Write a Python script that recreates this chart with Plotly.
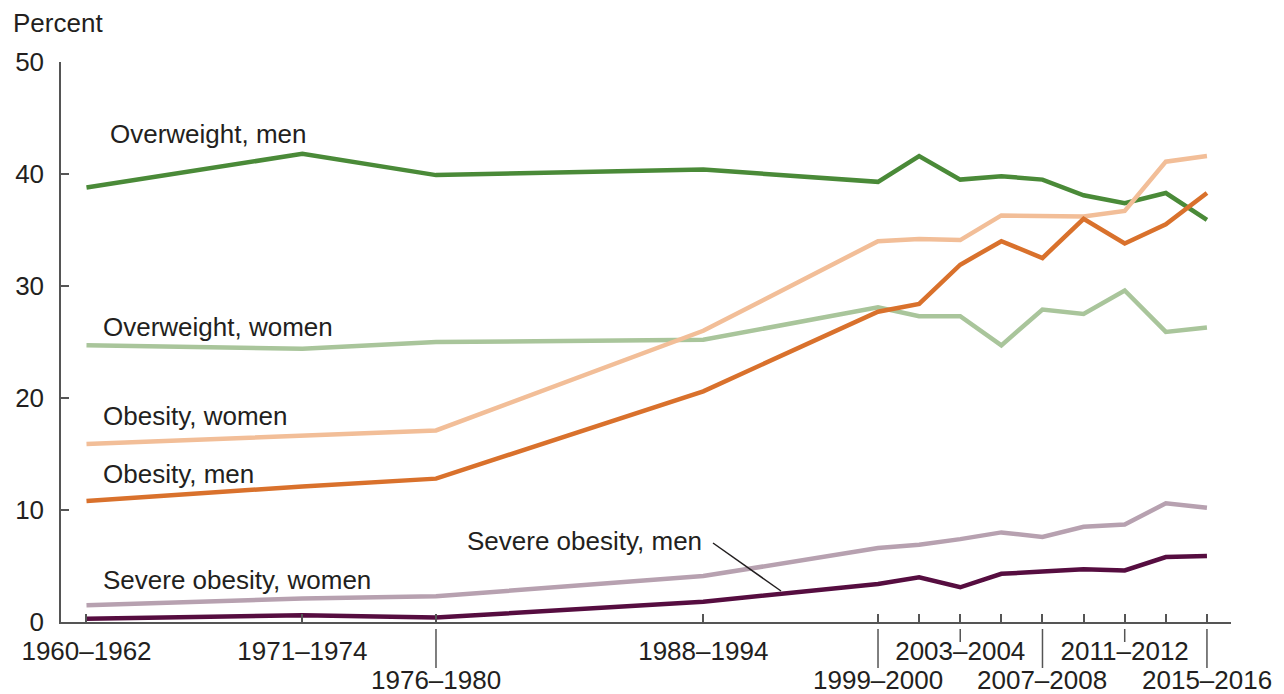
import plotly.graph_objects as go

# ---------------- data ----------------
periods = ["1960–1962", "1971–1974", "1976–1980", "1988–1994", "1999–2000", "2001–2002",
           "2003–2004", "2005–2006", "2007–2008", "2009–2010", "2011–2012", "2013–2014",
           "2015–2016"]
period_pos = [1961, 1971.5, 1978, 1991, 1999.5, 2001.5, 2003.5, 2005.5, 2007.5, 2009.5,
              2011.5, 2013.5, 2015.5]

overweight_men = [38.8, 41.8, 39.9, 40.4, 39.3, 41.6, 39.5, 39.8, 39.5, 38.1, 37.4, 38.3, 35.9]
overweight_women = [24.7, 24.4, 25.0, 25.2, 28.1, 27.3, 27.3, 24.7, 27.9, 27.5, 29.6, 25.9, 26.3]
obesity_women = [15.9, 16.6, 17.1, 26.0, 34.0, 34.2, 34.1, 36.3, 36.3, 36.2, 36.7, 41.1, 41.6]
obesity_men = [10.8, 12.1, 12.8, 20.6, 27.7, 28.4, 31.9, 34.0, 32.5, 36.0, 33.8, 35.5, 38.3]
severe_women = [1.5, 2.1, 2.3, 4.1, 6.6, 6.9, 7.4, 8.0, 7.6, 8.5, 8.7, 10.6, 10.2]
severe_men = [0.3, 0.6, 0.4, 1.8, 3.4, 4.0, 3.1, 4.3, 4.5, 4.7, 4.6, 5.8, 5.9]

top_row_labels = ["1960–1962", "1971–1974", "1988–1994", "2003–2004", "2011–2012"]
bottom_row_labels = ["1976–1980", "1999–2000", "2007–2008", "2015–2016"]
short_tick_labels = ["2003–2004", "2011–2012"]

y_ticks = [0, 10, 20, 30, 40, 50]

# ---------------- layout geometry (screen pixels; page body has 8px margin) ----------------
OFF = 8
SCR_W, SCR_H = 1284, 694
W, H = SCR_W - OFF, SCR_H - OFF
PLOT_L, PLOT_R, PLOT_T, PLOT_B = 61, 1231, 62, 622   # screen coords of plot area
ML = PLOT_L - OFF
MT = PLOT_T - OFF
PW = PLOT_R - PLOT_L
PH = PLOT_B - PLOT_T
MR = W - ML - PW
MB = H - MT - PH
X_RANGE = [1959.76, 2016.67]


def px_x(px):
    return (px - PLOT_L) / PW


def px_y(py):
    return (PLOT_B - py) / PH


FONT = "Liberation Sans, Arial, Helvetica, sans-serif"
FS = 26
TXT = "#231f20"
AX = "#555555"

series = [
    (overweight_men, "#4a8a38", "Overweight, men"),
    (overweight_women, "#a9c59b", "Overweight, women"),
    (obesity_women, "#f2be98", "Obesity, women"),
    (obesity_men, "#d9712c", "Obesity, men"),
    (severe_women, "#b7a1b0", "Severe obesity, women"),
    (severe_men, "#560d40", "Severe obesity, men"),
]

fig = go.Figure()
for vals, col, name in series:
    fig.add_trace(go.Scatter(x=period_pos, y=vals, mode="lines", name=name,
                             line=dict(color=col, width=4.5), cliponaxis=False,
                             hoverinfo="x+y+name"))

tick_text = [p if p in top_row_labels else "" for p in periods]

fig.update_layout(
    width=W, height=H,
    margin=dict(l=ML, r=MR, t=MT, b=MB, pad=0, autoexpand=False),
    paper_bgcolor="white", plot_bgcolor="white",
    showlegend=False,
    font=dict(family=FONT, size=FS, color=TXT),
    xaxis=dict(range=X_RANGE, showgrid=False, zeroline=False, automargin=False,
               showline=True, linecolor=AX, linewidth=1.5,
               tickmode="array", tickvals=period_pos, ticktext=tick_text,
               ticks="inside", ticklen=8, tickwidth=1.5, tickcolor=AX,
               ticklabelstandoff=5,
               tickfont=dict(family=FONT, size=FS, color=TXT)),
    yaxis=dict(range=[0, 50], showgrid=False, zeroline=False, automargin=False,
               showline=True, linecolor=AX, linewidth=1.5,
               tickmode="array", tickvals=y_ticks,
               ticks="inside", ticklen=8, tickwidth=1.5, tickcolor=AX,
               ticklabelstandoff=10,
               tickfont=dict(family=FONT, size=FS, color=TXT)),
)

# lower-row ticks and labels
for lab in bottom_row_labels:
    xv = period_pos[periods.index(lab)]
    fig.add_shape(type="line", xref="x", yref="paper", x0=xv, x1=xv,
                  y0=px_y(629), y1=px_y(668), line=dict(color=AX, width=1.5))
    fig.add_annotation(x=xv, xref="x", y=px_y(680), yref="paper", text=lab,
                       showarrow=False, xanchor="center", yanchor="middle",
                       font=dict(family=FONT, size=FS, color=TXT))
for lab in short_tick_labels:
    xv = period_pos[periods.index(lab)]
    fig.add_shape(type="line", xref="x", yref="paper", x0=xv, x1=xv,
                  y0=px_y(629), y1=px_y(642), line=dict(color=AX, width=1.5))

# series labels
labels = [
    ("Overweight, men", 108, 134),
    ("Overweight, women", 101, 327),
    ("Obesity, women", 101, 416),
    ("Obesity, men", 101, 474),
    ("Severe obesity, women", 101, 580),
    ("Severe obesity, men", 465, 541),
]
for text, lx, ly in labels:
    fig.add_annotation(x=px_x(lx), y=px_y(ly), xref="paper", yref="paper", text=text,
                       showarrow=False, xanchor="left", yanchor="middle",
                       font=dict(family=FONT, size=FS, color=TXT))

# leader line for severe obesity, men
fig.add_shape(type="line", xref="paper", yref="paper",
              x0=px_x(713), y0=px_y(543), x1=px_x(781), y1=px_y(591),
              line=dict(color="#231f20", width=1.5))

# axis title
fig.add_annotation(x=px_x(11), y=px_y(23), xref="paper", yref="paper", text="Percent",
                   showarrow=False, xanchor="left", yanchor="middle",
                   font=dict(family=FONT, size=FS, color=TXT))

fig.write_html("out.html")
